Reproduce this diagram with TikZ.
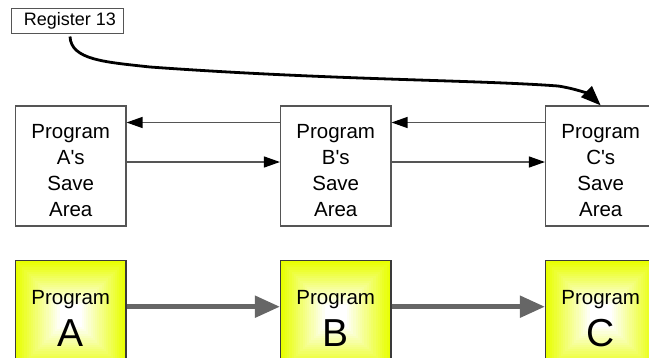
\documentclass[tikz,border=0pt]{standalone}
\usepackage{fontspec}
\setmainfont{Liberation Sans}
\usetikzlibrary{arrows.meta,calc}
\definecolor{boxline}{HTML}{555555}
\definecolor{progline}{HTML}{3A3A3A}
\definecolor{progyellow}{RGB}{232,255,0}
\definecolor{flowgray}{HTML}{666666}
% straight apostrophe glyph, set directly so no quote mapping applies
\newcommand\apos{\XeTeXglyph\XeTeXglyphindex "quotesingle"\relax}
\tikzset{
  savebox/.style={draw=boxline, line width=1.1pt, minimum width=110.5pt, minimum height=120pt, inner sep=0pt},
  savetext/.style={align=center, inner sep=0pt, font=\fontsize{20.5}{25.8}\selectfont},
  progbox/.style={draw=progline, line width=1.1pt, minimum width=110.5pt, minimum height=110.5pt, inner sep=0pt,
    path picture={
      \foreach \i [evaluate=\i as \pc using {max(0,int(100-5*\i))}] in {0,...,24}{
        \fill[progyellow!\pc!white]
          ($(path picture bounding box.south west)!\i/50!(path picture bounding box.north east)$)
          rectangle
          ($(path picture bounding box.north east)!\i/50!(path picture bounding box.south west)$);
      }
    }},
  progword/.style={anchor=base, inner sep=0pt, font=\fontsize{20.5}{24}\selectfont},
  progletter/.style={anchor=base, inner sep=0pt, font=\fontsize{39}{44}\selectfont},
  linkarrow/.style={draw=boxline, line width=1.2pt, -{Triangle[length=16pt,width=11pt,color=black]}},
  flowarrow/.style={draw=flowgray, line width=5pt, -{Triangle[length=25pt,width=21pt]}},
  pointer/.style={draw=black, line width=2.8pt, -{Triangle[length=20pt,width=15pt]}}
}
\begin{document}
\begin{tikzpicture}[x=1pt,y=-1pt]
\useasboundingbox (0,0) rectangle (649,357);
\clip (0,0) rectangle (649,357);

% register box
\node[draw=boxline, line width=1pt, minimum width=111.3pt, minimum height=25pt, inner sep=0pt,
      font=\fontsize{18}{20}\selectfont] (reg) at (67.4,20.5) {\hspace*{5pt}Register 13};

% save areas
\node[savebox] (saveA) at (70.75,166) {};
\node[savebox] (saveB) at (335.75,166) {};
\node[savebox] (saveC) at (600.75,166) {};
\node[savetext, yshift=-4.6pt] (saveAtxt) at (saveA.center) {Program\\A\apos s\\Save\\Area};
\node[savetext, yshift=-4.6pt] (saveBtxt) at (saveB.center) {Program\\B\apos s\\Save\\Area};
\node[savetext, yshift=-4.6pt] (saveCtxt) at (saveC.center) {Program\\C\apos s\\Save\\Area};

% programs
\node[progbox] (progA) at (70.75,316) {};
\node[progbox] (progB) at (335.75,316) {};
\node[progbox] (progC) at (600.75,316) {};
\foreach \p/\l in {A/A,B/B,C/C}{
  \node[progword, yshift=11.7pt] (prog\p word) at (prog\p.center) {Program};
  \node[progletter, yshift=-30.7pt] (prog\p letter) at (prog\p.center) {\l};
}

% back links between save areas
\draw[linkarrow] ([yshift=43.5pt]saveB.west) -- ([yshift=43.5pt]saveA.east);
\draw[linkarrow] ([yshift=43.5pt]saveC.west) -- ([yshift=43.5pt]saveB.east);
% forward links between save areas
\draw[linkarrow] ([yshift=4pt]saveA.east) -- ([yshift=4pt]saveB.west);
\draw[linkarrow] ([yshift=4pt]saveB.east) -- ([yshift=4pt]saveC.west);

% program calls
\draw[flowarrow] ([yshift=9.3pt]progA.east) -- ([yshift=9.3pt]progB.west);
\draw[flowarrow] ([yshift=9.3pt]progB.east) -- ([yshift=9.3pt]progC.west);

% register 13 points at the current save area
\coordinate (regout) at ([xshift=2.6pt,yshift=-3pt]reg.south);
\draw[pointer] (regout) .. controls (71,60) and (105,62) .. (150,67)
  .. controls (330,80) and (480,80) .. (558,86)
  .. controls (578,89) and (590,95) .. (saveC.north);
\end{tikzpicture}
\end{document}
